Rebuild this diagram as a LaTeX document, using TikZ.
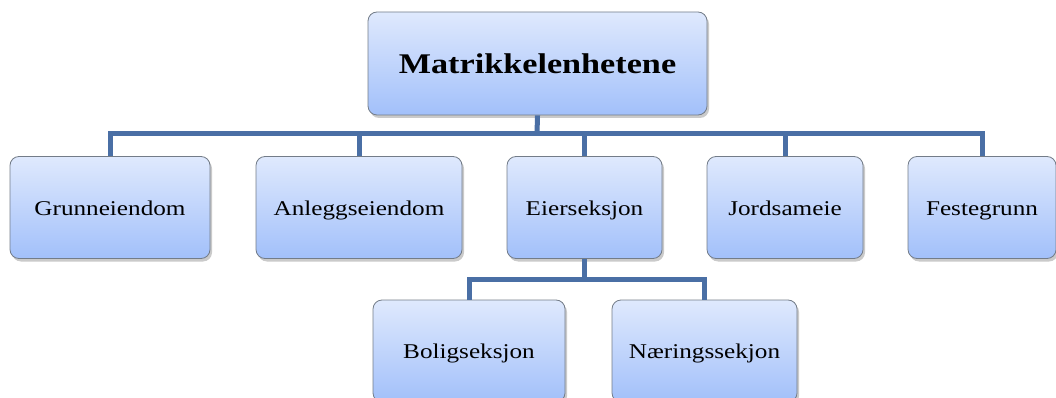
\documentclass[tikz,border=0pt]{standalone}
\usepackage{fontspec}
\setmainfont{Liberation Serif}[FakeStretch=1.2]
\usetikzlibrary{shadows}
\definecolor{linkblue}{HTML}{4A6FA5}
\definecolor{boxtop}{HTML}{DFE9FD}
\definecolor{boxbot}{HTML}{A2C0FA}
\definecolor{boxedge}{HTML}{737C88}
\tikzset{
  unit/.style={draw=boxedge, line width=0.8pt, rounded corners=9pt,
    top color=boxtop, bottom color=boxbot,
    drop shadow={shadow xshift=2pt, shadow yshift=-3pt, opacity=0.35, fill=black!60},
    font=\fontsize{21}{25}\selectfont, inner sep=0pt,
    text height=20pt, text depth=5pt},
  link/.style={draw=linkblue, line width=5pt}
}
\begin{document}
\begin{tikzpicture}[x=1pt,y=-1pt]
  \useasboundingbox (0,0) rectangle (1056,398);
  % root
  \node[unit, minimum width=339pt, minimum height=103pt,
        text height=27pt, text depth=6pt,
        font=\fontsize{28.5}{32}\selectfont\bfseries] (root) at (537.5,63.5) {Matrikkelenhetene};
  % first level
  \node[unit, minimum width=200pt, minimum height=102pt] (g) at (110,207.5) {Grunneiendom};
  \node[unit, minimum width=206pt, minimum height=102pt] (a) at (359,207.5) {Anleggseiendom};
  \node[unit, minimum width=155pt, minimum height=102pt] (e) at (584.5,207.5) {Eierseksjon};
  \node[unit, minimum width=156pt, minimum height=102pt] (j) at (785,207.5) {Jordsameie};
  \node[unit, minimum width=148pt, minimum height=102pt] (f) at (982,207.5) {Festegrunn};
  % second level
  \node[unit, minimum width=192pt, minimum height=102pt] (b) at (469,351) {Boligseksjon};
  \node[unit, minimum width=185pt, minimum height=102pt] (n) at (704.5,351) {Næringssekjon};
  % connectors
  \coordinate (top) at (537,134);
  \coordinate (mid) at (584.5,279);
  \draw[link] (root.south) -- (top);
  \draw[link] (g.north) |- (top) -| (f.north);
  \draw[link] (a.north) -- (a.north |- top);
  \draw[link] (e.north) -- (e.north |- top);
  \draw[link] (j.north) -- (j.north |- top);
  \draw[link] (e.south) -- (mid);
  \draw[link] (b.north) |- (mid) -| (n.north);
\end{tikzpicture}
\end{document}
